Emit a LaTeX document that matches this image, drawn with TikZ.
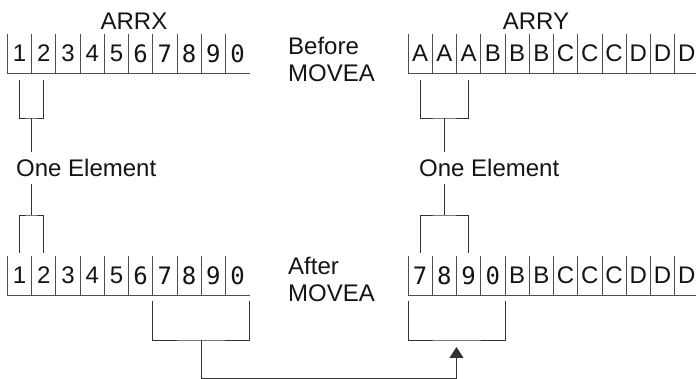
\documentclass[tikz,border=0pt]{standalone}
\usepackage{fontspec}
\setmainfont{Liberation Sans}
\newfontfamily\cellmonofont{DejaVu Sans Mono}
\usepackage{tikz}
\usetikzlibrary{arrows.meta, positioning, calc}
\newcommand{\mono}[1]{{\cellmonofont #1}}

\begin{document}
\begin{tikzpicture}[
    x=1pt, y=1pt,
    every node/.style={font=\fontsize{24}{27}\selectfont, text=black!92},
    cell/.style={
        anchor=south west,
        minimum width=24.25pt,
        minimum height=39pt,
        inner sep=0pt,
        outer sep=0pt,
        font=\fontsize{24}{26}\selectfont
    },
    rule/.style={
        draw=black!70,
        line width=0.8pt
    },
    bracket/.style={
        draw=black!80,
        line width=0.9pt
    },
    caption/.style={
        align=left,
        anchor=west,
        inner sep=0pt
    },
    element/.style={
        anchor=base west,
        inner xsep=0pt,
        inner ysep=7pt,
        text height=17pt,
        text depth=0pt
    },
    arrow/.style={
        bracket,
        -{Triangle[length=11pt, width=14pt]}
    }
]
\useasboundingbox (0,0) rectangle (696,379);

% array labels
\node (arrx) at (134,358) {ARRX};
\node (arry) at (536,358) {ARRY};
\node[caption] (before) at (288,320) {Before\\MOVEA};
\node[caption] (after) at (288,100) {After\\MOVEA};

% cells before the move
\foreach \t [count=\i] in {1,2,3,4,5,\mono{6},\mono{7},\mono{8},\mono{9},\mono{0}}
    \node[cell] (ax\i) at ({7.3+(\i-1)*24.25},306) {\t};
\foreach \t [count=\i] in {A,A,A,B,B,B,C,C,C,D,D,D}
    \node[cell] (ay\i) at ({408+(\i-1)*24.25},306) {\t};

% cells after the move
\foreach \t [count=\i] in {1,2,3,4,5,\mono{6},\mono{7},\mono{8},\mono{9},\mono{0}}
    \node[cell] (bx\i) at ({7.3+(\i-1)*24.25},84) {\t};
\foreach \t [count=\i] in {\mono{7},\mono{8},\mono{9},\mono{0},B,B,C,C,C,D,D,D}
    \node[cell] (by\i) at ({408+(\i-1)*24.25},84) {\t};

\foreach \i in {1,...,10} {
    \draw[rule] (ax\i.north west) -- (ax\i.south west) -- (ax\i.south east);
    \draw[rule] (bx\i.north west) -- (bx\i.south west) -- (bx\i.south east);
}
\foreach \i in {1,...,12} {
    \draw[rule] (ay\i.north west) -- (ay\i.south west) -- (ay\i.south east);
    \draw[rule] (by\i.north west) -- (by\i.south west) -- (by\i.south east);
}

% one element
\node[element] (onex) at (16,202.3) {One Element};
\node[element] (oney) at (419,202.3) {One Element};

\coordinate (brxa) at ($(ax1.south)!0.5!(ax2.south)+(0,-45)$);
\coordinate (brxb) at ($(bx1.north)!0.5!(bx2.north)+(0,41)$);
\coordinate (brya) at ($(ay1.south)!0.5!(ay3.south)+(0,-45)$);
\coordinate (bryb) at ($(by1.north)!0.5!(by3.north)+(0,41)$);

\draw[bracket] ([yshift=-7pt]ax1.south) |- (brxa) -| ([yshift=-7pt]ax2.south);
\draw[bracket] (brxa) -- (brxa |- onex.north);
\draw[bracket] (brxa |- onex.south) -- (brxb);
\draw[bracket] ([yshift=3pt]bx1.north) |- (brxb) -| ([yshift=3pt]bx2.north);

\draw[bracket] ([yshift=-7pt]ay1.south) |- (brya) -| ([yshift=-7pt]ay3.south);
\draw[bracket] (brya) -- (brya |- oney.north);
\draw[bracket] (brya |- oney.south) -- (bryb);
\draw[bracket] ([yshift=3pt]by1.north) |- (bryb) -| ([yshift=3pt]by3.north);

% the move
\coordinate (mvx) at ($(bx7.south west)!0.5!(bx10.south east)+(0,-45)$);
\coordinate (mvy) at ($(by1.south west)!0.5!(by4.south east)+(0,-45)$);
\draw[bracket] ([yshift=-6pt]bx7.south west) |- (mvx) -| ([yshift=-6pt]bx10.south east);
\draw[bracket] ([yshift=-6pt]by1.south west) |- (mvy) -| ([yshift=-6pt]by4.south east);
\draw[arrow] (mvx) -- ++(0,-38) -| ([yshift=-7pt]mvy);

\end{tikzpicture}
\end{document}
